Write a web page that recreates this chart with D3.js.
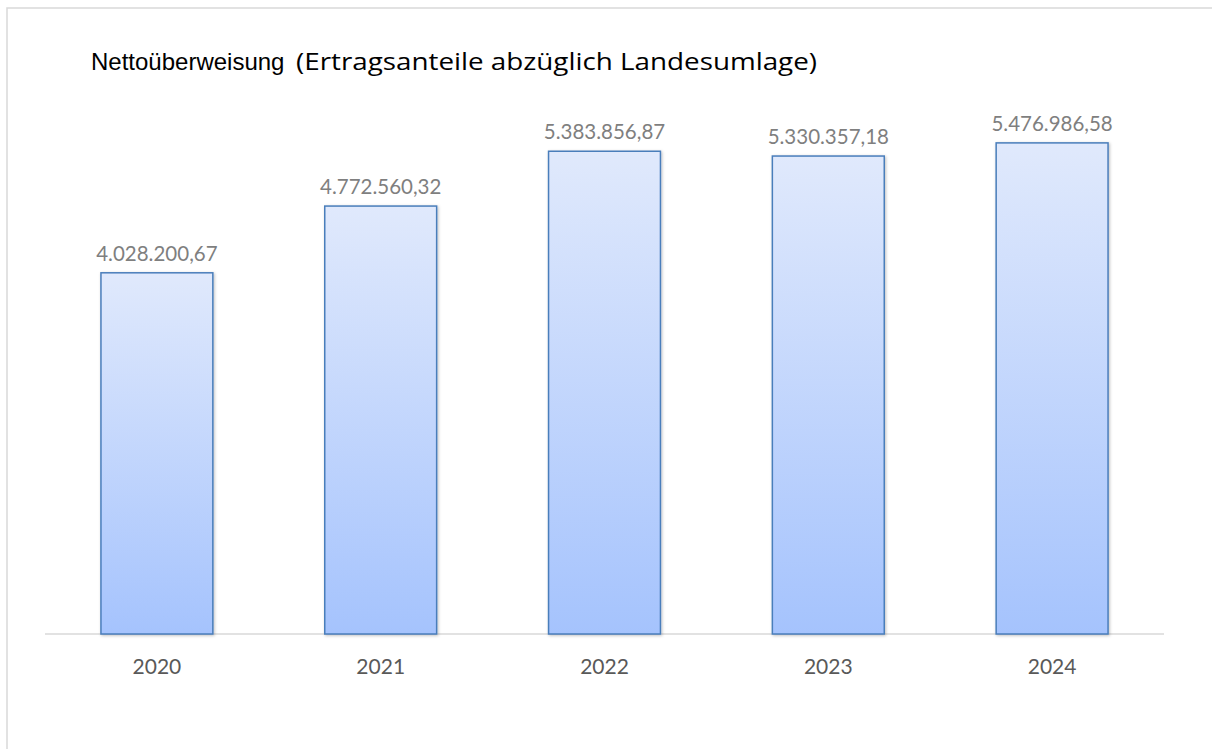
<!DOCTYPE html>
<html>
<head>
<meta charset="utf-8">
<script src="https://cdn.jsdelivr.net/npm/d3@7"></script>
<style>
  body { margin: 0; background: #fff; }
</style>
</head>
<body>
<div id="chart"></div>
<script>
const years = ["2020", "2021", "2022", "2023", "2024"];
const values = [4028200.67, 4772560.32, 5383856.87, 5330357.18, 5476986.58];
const labels = ["4.028.200,67", "4.772.560,32", "5.383.856,87", "5.330.357,18", "5.476.986,58"];
const yMax = 6000000;

const width = 1212, height = 749;
const plot = { left: 45, right: 1164, top: 96, bottom: 634 };

const svg = d3.select("#chart").append("svg")
    .attr("width", width)
    .attr("height", height);

// frame of the chart area (runs off to the right and bottom)
svg.append("rect")
    .attr("x", 7).attr("y", 8)
    .attr("width", width).attr("height", height)
    .attr("fill", "none")
    .attr("stroke", "#d9d9d9")
    .attr("stroke-width", 1.5);

const defs = svg.append("defs");
const grad = defs.append("linearGradient")
    .attr("id", "barFill")
    .attr("x1", 0).attr("y1", 0).attr("x2", 0).attr("y2", 1);
grad.append("stop").attr("offset", "0%").attr("stop-color", "#e0e9fc");
grad.append("stop").attr("offset", "100%").attr("stop-color", "#a5c3fd");

const shadow = defs.append("filter").attr("id", "shadow")
    .attr("x", "-10%").attr("y", "-10%").attr("width", "130%").attr("height", "130%");
shadow.append("feDropShadow")
    .attr("dx", 1).attr("dy", 1).attr("stdDeviation", 1.5)
    .attr("flood-color", "#000").attr("flood-opacity", 0.25);

const x = d3.scaleBand()
    .domain(years)
    .range([plot.left, plot.right])
    .paddingInner(0.5)
    .paddingOuter(0.25);

const y = d3.scaleLinear()
    .domain([0, yMax])
    .range([plot.bottom, plot.top]);

// baseline
svg.append("line")
    .attr("x1", plot.left).attr("x2", plot.right)
    .attr("y1", plot.bottom).attr("y2", plot.bottom)
    .attr("stroke", "#d9d9d9")
    .attr("stroke-width", 1.5);

// bars
svg.selectAll(".bar")
    .data(values)
    .enter()
    .append("rect")
    .attr("class", "bar")
    .attr("x", (d, i) => x(years[i]))
    .attr("y", d => y(d))
    .attr("width", x.bandwidth())
    .attr("height", d => y(0) - y(d))
    .attr("fill", "url(#barFill)")
    .attr("stroke", "#4a7ebb")
    .attr("stroke-width", 1.5)
    .attr("filter", "url(#shadow)");

// value labels
svg.selectAll(".val")
    .data(values)
    .enter()
    .append("text")
    .attr("class", "val")
    .attr("x", (d, i) => x(years[i]) + x.bandwidth() / 2)
    .attr("y", d => y(d) - 12)
    .attr("text-anchor", "middle")
    .attr("font-family", "Lato, sans-serif")
    .attr("font-size", "20.5px")
    .attr("fill", "#7f7f7f")
    .text((d, i) => labels[i]);

// category axis
const xAxis = svg.append("g")
    .attr("transform", "translate(0," + plot.bottom + ")")
    .call(d3.axisBottom(x).tickSize(0).tickPadding(25));
xAxis.select(".domain").remove();
xAxis.selectAll("text")
    .attr("font-family", "Lato, sans-serif")
    .attr("font-size", "21px")
    .attr("fill", "#595959");

// title
const title = svg.append("text")
    .attr("x", 91)
    .attr("y", 70)
    .attr("fill", "#000");
title.append("tspan")
    .attr("font-family", "Liberation Sans, Arial, sans-serif")
    .attr("font-size", "24px")
    .text("Nettoüberweisung");
title.append("tspan")
    .attr("x", 296)
    .attr("font-family", "Open Sans, sans-serif")
    .attr("font-size", "24px")
    .attr("textLength", 521)
    .attr("lengthAdjust", "spacingAndGlyphs")
    .text("(Ertragsanteile abzüglich Landesumlage)");
</script>
</body>
</html>
